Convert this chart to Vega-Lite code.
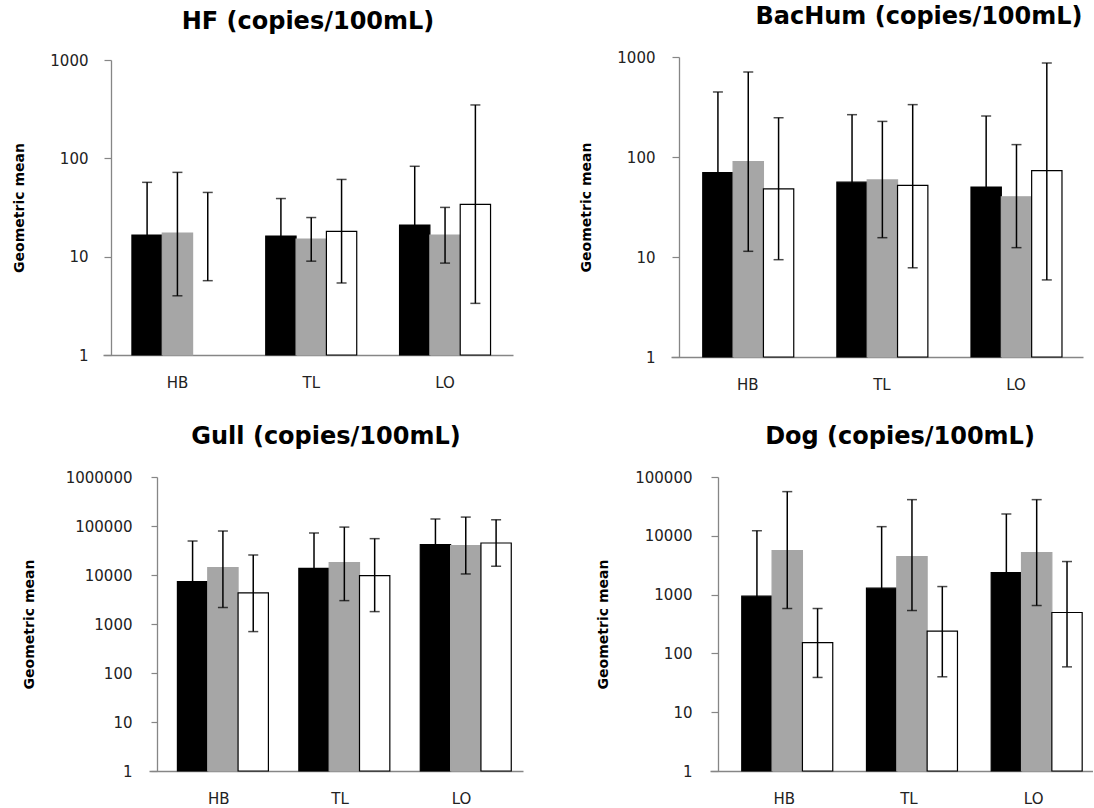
{
  "$schema": "https://vega.github.io/schema/vega-lite/v6.json",
  "padding": {"left": 12, "top": 5, "right": 0, "bottom": 0},
  "background": "white",
  "config": {
    "view": {"stroke": null},
    "font": "DejaVu Sans",
    "axis": {"grid": false, "domainColor": "#868686", "tickColor": "#868686", "domainWidth": 1.3, "tickWidth": 1.2, "labelColor": "#222222", "labelFont": "DejaVu Sans"},
    "axisY": {"format": "d", "labelFontSize": 15, "labelFlush": false, "tickSize": 7, "titleAngle": -90, "titleBaseline": "middle", "titleAlign": "center", "titleFontSize": 14, "titleFontWeight": "bold", "titleColor": "black", "titleFont": "DejaVu Sans"},
    "axisX": {"labelAngle": 0, "ticks": false, "tickSize": 0, "labelPadding": 20, "labelFontSize": 15},
    "title": {"font": "DejaVu Sans", "fontSize": 24, "fontWeight": "bold", "color": "black", "anchor": "middle", "frame": "group", "baseline": "alphabetic"}
  },
  "datasets": {
    "hf": [
      {"site": "HB", "series": "Series 1", "mean": 16.6, "lo": 4.8, "hi": 57},
      {"site": "HB", "series": "Series 2", "mean": 17.4, "lo": 4.0, "hi": 72},
      {"site": "HB", "series": "Series 3", "mean": null, "lo": 5.7, "hi": 45},
      {"site": "TL", "series": "Series 1", "mean": 16.2, "lo": 6.7, "hi": 39},
      {"site": "TL", "series": "Series 2", "mean": 15.1, "lo": 9.0, "hi": 25},
      {"site": "TL", "series": "Series 3", "mean": 18.1, "lo": 5.4, "hi": 61},
      {"site": "LO", "series": "Series 1", "mean": 21, "lo": 5.3, "hi": 83},
      {"site": "LO", "series": "Series 2", "mean": 16.6, "lo": 8.6, "hi": 31.7},
      {"site": "LO", "series": "Series 3", "mean": 34, "lo": 3.35, "hi": 349}
    ],
    "bachum": [
      {"site": "HB", "series": "Series 1", "mean": 70, "lo": 11, "hi": 447},
      {"site": "HB", "series": "Series 2", "mean": 90, "lo": 11.4, "hi": 708},
      {"site": "HB", "series": "Series 3", "mean": 48, "lo": 9.4, "hi": 247},
      {"site": "TL", "series": "Series 1", "mean": 56, "lo": 12, "hi": 265},
      {"site": "TL", "series": "Series 2", "mean": 59, "lo": 15.6, "hi": 227},
      {"site": "TL", "series": "Series 3", "mean": 52, "lo": 7.8, "hi": 334},
      {"site": "LO", "series": "Series 1", "mean": 50, "lo": 10, "hi": 257},
      {"site": "LO", "series": "Series 2", "mean": 40, "lo": 12.4, "hi": 133},
      {"site": "LO", "series": "Series 3", "mean": 73, "lo": 5.9, "hi": 871}
    ],
    "gull": [
      {"site": "HB", "series": "Series 1", "mean": 7340, "lo": 1100, "hi": 49400},
      {"site": "HB", "series": "Series 2", "mean": 14200, "lo": 2170, "hi": 79000},
      {"site": "HB", "series": "Series 3", "mean": 4310, "lo": 700, "hi": 25600},
      {"site": "TL", "series": "Series 1", "mean": 13700, "lo": 2600, "hi": 72000},
      {"site": "TL", "series": "Series 2", "mean": 17900, "lo": 3000, "hi": 95000},
      {"site": "TL", "series": "Series 3", "mean": 9720, "lo": 1790, "hi": 55200},
      {"site": "LO", "series": "Series 1", "mean": 41700, "lo": 12500, "hi": 139000},
      {"site": "LO", "series": "Series 2", "mean": 39800, "lo": 10500, "hi": 152000},
      {"site": "LO", "series": "Series 3", "mean": 45000, "lo": 15100, "hi": 134000}
    ],
    "dog": [
      {"site": "HB", "series": "Series 1", "mean": 940, "lo": 72, "hi": 12200},
      {"site": "HB", "series": "Series 2", "mean": 5600, "lo": 580, "hi": 56400},
      {"site": "HB", "series": "Series 3", "mean": 153, "lo": 39, "hi": 580},
      {"site": "TL", "series": "Series 1", "mean": 1285, "lo": 115, "hi": 14300},
      {"site": "TL", "series": "Series 2", "mean": 4430, "lo": 536, "hi": 41200},
      {"site": "TL", "series": "Series 3", "mean": 239, "lo": 40, "hi": 1370},
      {"site": "LO", "series": "Series 1", "mean": 2370, "lo": 240, "hi": 23500},
      {"site": "LO", "series": "Series 2", "mean": 5190, "lo": 652, "hi": 41200},
      {"site": "LO", "series": "Series 3", "mean": 496, "lo": 59, "hi": 3650}
    ]
  },
  "columns": 2,
  "align": "all",
  "bounds": "flush",
  "spacing": {"row": 120, "column": 146},
  "concat": [
    {
      "width": 410, "height": 298,
      "data": {"name": "hf"},
      "title": {"text": "HF (copies/100mL)", "offset": 19, "dx": 0},
      "encoding": {
        "x": {"field": "site", "type": "nominal", "sort": ["HB", "TL", "LO"], "title": null,
              "scale": {"range": [0, 410], "paddingInner": 0.32, "paddingOuter": 0.192, "align": 0.563}},
        "xOffset": {"field": "series", "type": "nominal", "scale": {"domain": ["Series 1", "Series 2", "Series 3"], "paddingInner": 0, "paddingOuter": 0}}
      },
      "layer": [
        {"mark": {"type": "bar", "strokeWidth": 1.2},
         "encoding": {
           "y": {"field": "mean", "type": "quantitative", "title": "Geometric mean",
                 "scale": {"type": "log", "domain": [1, 1000], "range": [298, 3], "nice": false},
                 "axis": {"title": "Geometric mean", "values": [1, 10, 100, 1000], "offset": -8, "labelPadding": 16, "titleX": -92, "titleY": 150.5}},
           "y2": {"datum": 1},
           "fill": {"field": "series", "type": "nominal", "scale": {"domain": ["Series 1", "Series 2", "Series 3"], "range": ["#000000", "#a6a6a6", "#ffffff"]}, "legend": null},
           "stroke": {"field": "series", "type": "nominal", "scale": {"domain": ["Series 1", "Series 2", "Series 3"], "range": ["#000000", "#a6a6a6", "#000000"]}, "legend": null}
         }},
        {"mark": {"type": "rule", "strokeWidth": 1.5, "color": "black"},
         "encoding": {"y": {"field": "lo", "type": "quantitative", "title": "Geometric mean", "axis": {"title": "Geometric mean", "values": [1, 10, 100, 1000], "offset": -8, "labelPadding": 16, "titleX": -92, "titleY": 150.5}}, "y2": {"field": "hi"}}},
        {"mark": {"type": "tick", "orient": "horizontal", "size": 10, "thickness": 1.5, "color": "black"},
         "encoding": {"y": {"field": "hi", "type": "quantitative", "title": "Geometric mean", "axis": {"title": "Geometric mean", "values": [1, 10, 100, 1000], "offset": -8, "labelPadding": 16, "titleX": -92, "titleY": 150.5}}}},
        {"mark": {"type": "tick", "orient": "horizontal", "size": 10, "thickness": 1.5, "color": "black"},
         "encoding": {"y": {"field": "lo", "type": "quantitative", "title": "Geometric mean", "axis": {"title": "Geometric mean", "values": [1, 10, 100, 1000], "offset": -8, "labelPadding": 16, "titleX": -92, "titleY": 150.5}}}}
      ]
    },
    {
      "width": 412, "height": 300,
      "data": {"name": "bachum"},
      "title": {"text": "BacHum (copies/100mL)", "offset": 21, "dx": 42},
      "encoding": {
        "x": {"field": "site", "type": "nominal", "sort": ["HB", "TL", "LO"], "title": null,
              "scale": {"range": [0, 412], "paddingInner": 0.328, "paddingOuter": 0.2, "align": 0.592}},
        "xOffset": {"field": "series", "type": "nominal", "scale": {"domain": ["Series 1", "Series 2", "Series 3"], "paddingInner": 0, "paddingOuter": 0}}
      },
      "layer": [
        {"mark": {"type": "bar", "strokeWidth": 1.2},
         "encoding": {
           "y": {"field": "mean", "type": "quantitative", "title": "Geometric mean",
                 "scale": {"type": "log", "domain": [1, 1000], "nice": false},
                 "axis": {"title": "Geometric mean", "values": [1, 10, 100, 1000], "offset": -8, "labelPadding": 17, "titleX": -93, "titleY": 150}},
           "y2": {"datum": 1},
           "fill": {"field": "series", "type": "nominal", "scale": {"domain": ["Series 1", "Series 2", "Series 3"], "range": ["#000000", "#a6a6a6", "#ffffff"]}, "legend": null},
           "stroke": {"field": "series", "type": "nominal", "scale": {"domain": ["Series 1", "Series 2", "Series 3"], "range": ["#000000", "#a6a6a6", "#000000"]}, "legend": null}
         }},
        {"mark": {"type": "rule", "strokeWidth": 1.5, "color": "black"},
         "encoding": {"y": {"field": "lo", "type": "quantitative", "title": "Geometric mean", "axis": {"title": "Geometric mean", "values": [1, 10, 100, 1000], "offset": -8, "labelPadding": 17, "titleX": -93, "titleY": 150}}, "y2": {"field": "hi"}}},
        {"mark": {"type": "tick", "orient": "horizontal", "size": 10, "thickness": 1.5, "color": "black"},
         "encoding": {"y": {"field": "hi", "type": "quantitative", "title": "Geometric mean", "axis": {"title": "Geometric mean", "values": [1, 10, 100, 1000], "offset": -8, "labelPadding": 17, "titleX": -93, "titleY": 150}}}},
        {"mark": {"type": "tick", "orient": "horizontal", "size": 10, "thickness": 1.5, "color": "black"},
         "encoding": {"y": {"field": "lo", "type": "quantitative", "title": "Geometric mean", "axis": {"title": "Geometric mean", "values": [1, 10, 100, 1000], "offset": -8, "labelPadding": 17, "titleX": -93, "titleY": 150}}}}
      ]
    },
    {
      "width": 420, "height": 294,
      "data": {"name": "gull"},
      "title": {"text": "Gull (copies/100mL)", "offset": 21, "dx": 13},
      "encoding": {
        "x": {"field": "site", "type": "nominal", "sort": ["HB", "TL", "LO"], "title": null,
              "scale": {"range": [46, 420], "paddingInner": 0.32, "paddingOuter": 0.2, "align": 0.585}},
        "xOffset": {"field": "series", "type": "nominal", "scale": {"domain": ["Series 1", "Series 2", "Series 3"], "paddingInner": 0, "paddingOuter": 0}}
      },
      "layer": [
        {"mark": {"type": "bar", "strokeWidth": 1.2},
         "encoding": {
           "y": {"field": "mean", "type": "quantitative", "title": "Geometric mean",
                 "scale": {"type": "log", "domain": [1, 1000000], "nice": false},
                 "axis": {"title": "Geometric mean", "values": [1, 10, 100, 1000, 10000, 100000, 1000000], "offset": -54, "tickSize": 6, "labelPadding": 19, "titleX": -128, "titleY": 147}},
           "y2": {"datum": 1},
           "fill": {"field": "series", "type": "nominal", "scale": {"domain": ["Series 1", "Series 2", "Series 3"], "range": ["#000000", "#a6a6a6", "#ffffff"]}, "legend": null},
           "stroke": {"field": "series", "type": "nominal", "scale": {"domain": ["Series 1", "Series 2", "Series 3"], "range": ["#000000", "#a6a6a6", "#000000"]}, "legend": null}
         }},
        {"mark": {"type": "rule", "strokeWidth": 1.5, "color": "black"},
         "encoding": {"y": {"field": "lo", "type": "quantitative", "title": "Geometric mean", "axis": {"title": "Geometric mean", "values": [1, 10, 100, 1000, 10000, 100000, 1000000], "offset": -54, "tickSize": 6, "labelPadding": 19, "titleX": -128, "titleY": 147}}, "y2": {"field": "hi"}}},
        {"mark": {"type": "tick", "orient": "horizontal", "size": 10, "thickness": 1.5, "color": "black"},
         "encoding": {"y": {"field": "hi", "type": "quantitative", "title": "Geometric mean", "axis": {"title": "Geometric mean", "values": [1, 10, 100, 1000, 10000, 100000, 1000000], "offset": -54, "tickSize": 6, "labelPadding": 19, "titleX": -128, "titleY": 147}}}},
        {"mark": {"type": "tick", "orient": "horizontal", "size": 10, "thickness": 1.5, "color": "black"},
         "encoding": {"y": {"field": "lo", "type": "quantitative", "title": "Geometric mean", "axis": {"title": "Geometric mean", "values": [1, 10, 100, 1000, 10000, 100000, 1000000], "offset": -54, "tickSize": 6, "labelPadding": 19, "titleX": -128, "titleY": 147}}}}
      ]
    },
    {
      "width": 422, "height": 294,
      "data": {"name": "dog"},
      "title": {"text": "Dog (copies/100mL)", "offset": 21, "dx": 18},
      "encoding": {
        "x": {"field": "site", "type": "nominal", "sort": ["HB", "TL", "LO"], "title": null,
              "scale": {"range": [39, 422], "paddingInner": 0.319, "paddingOuter": 0.195, "align": 0.653}},
        "xOffset": {"field": "series", "type": "nominal", "scale": {"domain": ["Series 1", "Series 2", "Series 3"], "paddingInner": 0, "paddingOuter": 0}}
      },
      "layer": [
        {"mark": {"type": "bar", "strokeWidth": 1.2},
         "encoding": {
           "y": {"field": "mean", "type": "quantitative", "title": "Geometric mean",
                 "scale": {"type": "log", "domain": [1, 100000], "nice": false},
                 "axis": {"title": "Geometric mean", "values": [1, 10, 100, 1000, 10000, 100000], "offset": -47, "labelPadding": 19, "titleX": -115, "titleY": 147}},
           "y2": {"datum": 1},
           "fill": {"field": "series", "type": "nominal", "scale": {"domain": ["Series 1", "Series 2", "Series 3"], "range": ["#000000", "#a6a6a6", "#ffffff"]}, "legend": null},
           "stroke": {"field": "series", "type": "nominal", "scale": {"domain": ["Series 1", "Series 2", "Series 3"], "range": ["#000000", "#a6a6a6", "#000000"]}, "legend": null}
         }},
        {"mark": {"type": "rule", "strokeWidth": 1.5, "color": "black"},
         "encoding": {"y": {"field": "lo", "type": "quantitative", "title": "Geometric mean", "axis": {"title": "Geometric mean", "values": [1, 10, 100, 1000, 10000, 100000], "offset": -47, "labelPadding": 19, "titleX": -115, "titleY": 147}}, "y2": {"field": "hi"}}},
        {"mark": {"type": "tick", "orient": "horizontal", "size": 10, "thickness": 1.5, "color": "black"},
         "encoding": {"y": {"field": "hi", "type": "quantitative", "title": "Geometric mean", "axis": {"title": "Geometric mean", "values": [1, 10, 100, 1000, 10000, 100000], "offset": -47, "labelPadding": 19, "titleX": -115, "titleY": 147}}}},
        {"mark": {"type": "tick", "orient": "horizontal", "size": 10, "thickness": 1.5, "color": "black"},
         "encoding": {"y": {"field": "lo", "type": "quantitative", "title": "Geometric mean", "axis": {"title": "Geometric mean", "values": [1, 10, 100, 1000, 10000, 100000], "offset": -47, "labelPadding": 19, "titleX": -115, "titleY": 147}}}}
      ]
    }
  ]
}
